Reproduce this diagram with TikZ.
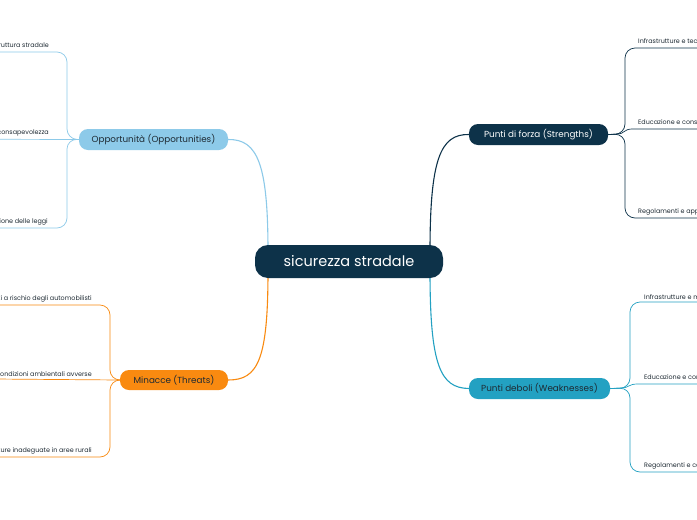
\documentclass[tikz,border=0pt]{standalone}
\usepackage{fontspec}
\setmainfont{Poppins}
\usetikzlibrary{backgrounds}
\definecolor{navy}{HTML}{0D3249}
\definecolor{teal}{HTML}{23A1C2}
\definecolor{sky}{HTML}{8DCAE9}
\definecolor{orng}{HTML}{F98A10}
\definecolor{txt}{HTML}{1E2A33}
\begin{document}
\begin{tikzpicture}[x=1pt,y=-1pt,
  centerbox/.style={fill=navy, text=white, rounded corners=13pt, minimum width=188pt, minimum height=33pt, font=\fontsize{14.5}{17}\selectfont, inner sep=0pt},
  branchbox/.style={rounded corners=9pt, minimum height=21pt, font=\fontsize{8.8}{10}\selectfont, inner sep=0pt},
  leafR/.style={anchor=south west, inner xsep=1pt, inner ysep=2.5pt, font=\fontsize{6.4}{8}\selectfont, text=txt},
  leafL/.style={anchor=south east, inner xsep=1pt, inner ysep=2.5pt, font=\fontsize{6.4}{8}\selectfont, text=txt},
  mainlink/.style={line width=1.1pt},
  leaflink/.style={line width=0.7pt, rounded corners=10pt}]
\useasboundingbox (0,0) rectangle (697,520);

% main nodes
\node[centerbox] (C) at (349,261.5) {sicurezza stradale};
\node[branchbox, fill=navy, text=white, minimum width=139pt] (S) at (538.5,134.5) {Punti di forza (Strengths)};
\node[branchbox, fill=teal, text=txt, minimum width=141pt] (W) at (539.5,388.5) {Punti deboli (Weaknesses)};
\node[branchbox, fill=sky, text=txt, minimum width=149pt] (O) at (153.5,139.5) {Opportunità (Opportunities)};
\node[branchbox, fill=orng, text=txt, minimum width=108pt, minimum height=20pt] (T) at (174,380) {Minacce (Threats)};

% leaves
\node[leafR] (s1) at (637,48) {Infrastrutture e tecnologia};
\node[leafR] (s2) at (637,129) {Educazione e consapevolezza};
\node[leafR] (s3) at (637,218) {Regolamenti e applicazione};
\node[leafR] (w1) at (643,302) {Infrastrutture e manutenzione};
\node[leafR] (w2) at (643,384) {Educazione e comportamento};
\node[leafR] (w3) at (643,472) {Regolamenti e controlli};
\node[leafL] (o1) at (50,52) {Miglioramento dell'infrastruttura stradale};
\node[leafL] (o2) at (50,139) {Campagne di sensibilizzazione e consapevolezza};
\node[leafL] (o3) at (49,228) {Maggiore applicazione delle leggi};
\node[leafL] (t1) at (93,305) {Comportamenti a rischio degli automobilisti};
\node[leafL] (t2) at (93,379) {Condizioni ambientali avverse};
\node[leafL] (t3) at (93,457) {Infrastrutture inadeguate in aree rurali};

\begin{scope}[on background layer]
\fill[white] (0,0) rectangle (697,520);
% main connectors
\draw[mainlink, navy] (430,252) .. controls (430,160) and (440,134) .. (S.west);
\draw[mainlink, teal] (430,271) .. controls (430,365) and (440,388) .. (W.west);
\draw[mainlink, sky] (268,252) .. controls (268,165) and (258,139) .. (O.east);
\draw[mainlink, orng] (268,271) .. controls (268,360) and (258,380) .. (T.east);

% strengths leaves
\draw[leaflink, navy] (S.east) -- (625,134) -- (625,48) -- (s1.south east);
\draw[leaflink, navy] (S.east) -- (625,134) -- (625,218) -- (s3.south east);
\draw[line width=0.7pt, navy] (S.east) -- (618,134) .. controls (624,134) and (624,129) .. (632,129) -- (s2.south east);
% weaknesses leaves
\draw[leaflink, teal] (W.east) -- (630,388) -- (630,302) -- (w1.south east);
\draw[leaflink, teal] (W.east) -- (630,388) -- (630,472) -- (w3.south east);
\draw[line width=0.7pt, teal] (W.east) -- (622,388) .. controls (628,388) and (629,384) .. (637,384) -- (w2.south east);
% opportunities leaves
\draw[leaflink, sky] (O.west) -- (67,139) -- (67,52) -- (o1.south west);
\draw[leaflink, sky] (O.west) -- (67,139) -- (67,228) -- (o3.south west);
\draw[line width=0.7pt, sky] (O.west) -- (o2.south west);
% threats leaves
\draw[leaflink, orng] (T.west) -- (110,380) -- (110,305) -- (t1.south west);
\draw[leaflink, orng] (T.west) -- (110,380) -- (110,457) -- (t3.south west);
\draw[line width=0.7pt, orng] (T.west) -- (t2.south west);
\end{scope}
\end{tikzpicture}
\end{document}
